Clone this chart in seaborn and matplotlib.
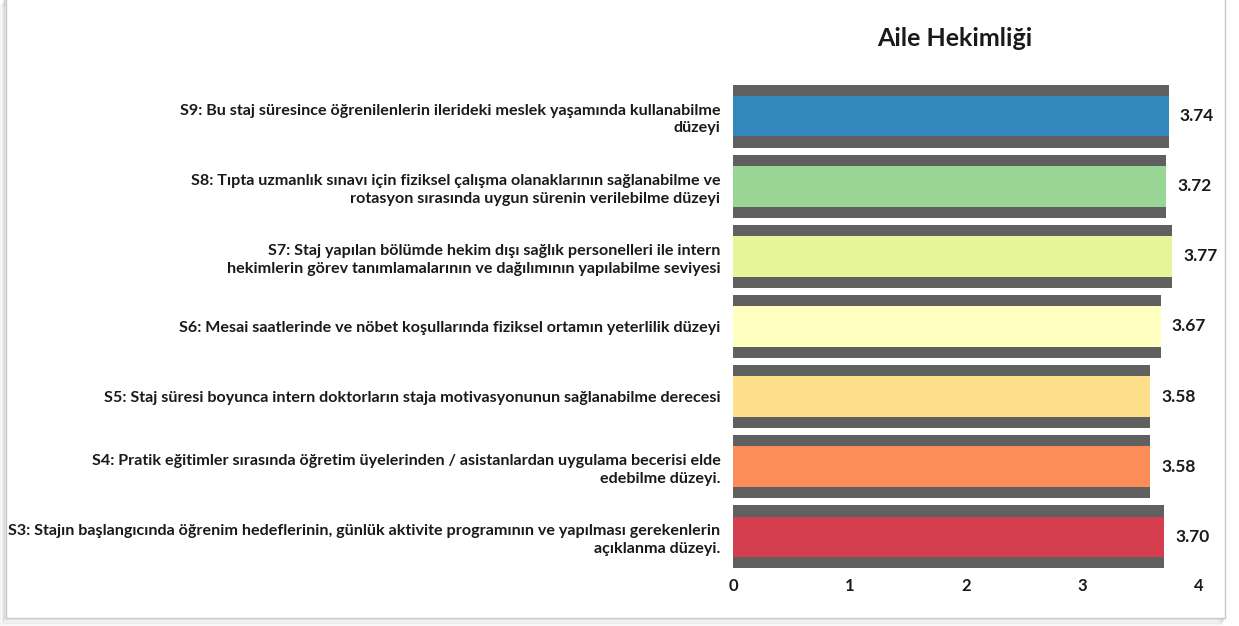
import matplotlib
matplotlib.use("Agg")
import matplotlib.pyplot as plt
from matplotlib.patches import Rectangle
import seaborn as sns
import pandas as pd

# Survey items (top to bottom) and their mean scores
items = [
    "S9: Bu staj süresince öğrenilenlerin ilerideki meslek yaşamında kullanabilme\ndüzeyi",
    "S8: Tıpta uzmanlık sınavı için fiziksel çalışma olanaklarının sağlanabilme ve\nrotasyon sırasında uygun sürenin verilebilme düzeyi",
    "S7: Staj yapılan bölümde hekim dışı sağlık personelleri ile intern\nhekimlerin görev tanımlamalarının ve dağılımının yapılabilme seviyesi",
    "S6: Mesai saatlerinde ve nöbet koşullarında fiziksel ortamın yeterlilik düzeyi",
    "S5: Staj süresi boyunca intern doktorların staja motivasyonunun sağlanabilme derecesi",
    "S4: Pratik eğitimler sırasında öğretim üyelerinden / asistanlardan uygulama becerisi elde\nedebilme düzeyi.",
    "S3: Stajın başlangıcında öğrenim hedeflerinin, günlük aktivite programının ve yapılması gerekenlerin\naçıklanma düzeyi.",
]
scores = [3.74, 3.72, 3.77, 3.67, 3.58, 3.58, 3.70]
x_ticks = [0, 1, 2, 3, 4]
title = "Aile Hekimliği"

bar_colors = ["#3288bd", "#99d594", "#e6f598", "#ffffbf", "#fee08b", "#fc8d59", "#d53e4f"]
shadow_gray = "#606060"

sns.set_theme(style="white")
plt.rcParams["font.family"] = ["Lato", "DejaVu Sans"]

df = pd.DataFrame({"item": items, "score": scores})

fig = plt.figure(figsize=(12.39, 6.26), dpi=100)

# panel frame with a soft drop shadow (kept beneath the axes)
for i, a in enumerate([0.10, 0.08, 0.06, 0.04, 0.02]):
    off = (i + 1) * 0.0016
    fig.patches.append(Rectangle((0.005 - off * 0.6, 0.013 - off * 1.6), 0.984, 0.99,
                                 transform=fig.transFigure, facecolor="none",
                                 edgecolor="black", alpha=a, lw=1.2, zorder=-2))
fig.patches.append(Rectangle((0.005, 0.013), 0.984, 0.99, transform=fig.transFigure,
                             facecolor="white", edgecolor="#c8c8c8", lw=1.0, zorder=-1))

ax = fig.add_axes([0.5916, 0.0863, 0.3761, 0.7843])
ax.set_facecolor("none")
ax.set_zorder(1)

# dark backing band, then the coloured bar on top
sns.barplot(data=df, x="score", y="item", color=shadow_gray, width=0.9,
            saturation=1, linewidth=0, ax=ax, zorder=2)
sns.barplot(data=df, x="score", y="item", hue="item", palette=bar_colors,
            width=0.58, saturation=1, linewidth=0, legend=False, ax=ax, zorder=3)

for i, v in enumerate(scores):
    ax.annotate(f"{v:.2f}", xy=(v, i), xytext=(8, 0), textcoords="offset points",
                va="center", ha="left", fontsize=12.5, fontweight="bold", color="#1a1a1a")

ax.set_xlim(0, 4)
ax.set_xticks(x_ticks)
ax.set_xticklabels([str(t) for t in x_ticks], fontsize=12, fontweight="bold", color="#1a1a1a")
ax.tick_params(axis="x", length=0, pad=4)
ax.tick_params(axis="y", length=0, pad=9)
for lab in ax.get_yticklabels():
    lab.set_fontsize(11.6)
    lab.set_fontweight("bold")
    lab.set_color("#1a1a1a")
    lab.set_linespacing(1.35)
    lab.set_horizontalalignment("right")
    lab.set_multialignment("right")
ax.set_xlabel("")
ax.set_ylabel("")
sns.despine(ax=ax, left=True, bottom=True)

fig.text(955 / 1239, 1 - 38 / 626, title, ha="center", va="center",
         fontsize=18, fontweight="bold", color="#1a1a1a")

fig.savefig("out.png", dpi=100)
